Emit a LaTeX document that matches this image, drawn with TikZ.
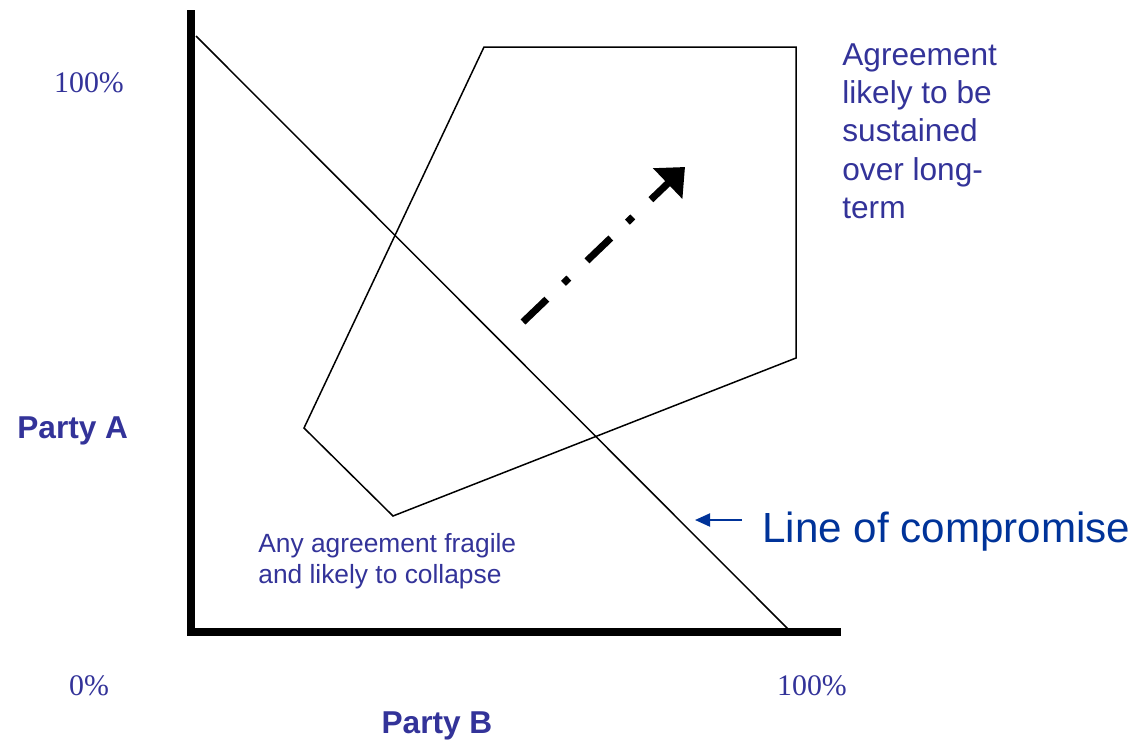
\documentclass[tikz,border=0pt]{standalone}
\usepackage{fontspec}
\setmainfont{Liberation Sans}
\newfontfamily\pctfont{Liberation Serif}
\usetikzlibrary{arrows.meta}
\definecolor{partyblue}{RGB}{51,51,153}
\definecolor{lineblue}{RGB}{0,51,153}

\begin{document}
\begin{tikzpicture}[
    x=0.02cm, y=-0.02cm,
    axis/.style={line width=4.5pt},
    zone/.style={line width=0.85pt},
    compromise/.style={line width=0.85pt},
    trend/.style={line width=4pt, dash pattern=on 0.66cm off 0.46cm on 0.15cm off 0.5cm, -{Triangle[length=0.48cm,width=0.82cm]}},
    ptr/.style={lineblue, line width=1.1pt, -{Triangle[length=0.3cm,width=0.26cm]}},
    lbl/.style={text=partyblue, inner sep=0pt},
    pct/.style={text=partyblue, font=\pctfont\fontsize{17}{20}\selectfont, inner sep=0pt, anchor=base},
    party/.style={text=partyblue, font=\bfseries\fontsize{18}{21}\selectfont, inner sep=0pt, anchor=base}
]
\useasboundingbox (0,0) rectangle (1137,741);

% axes
\coordinate (ytop) at (191,10);
\coordinate (orig) at (191,632);
\coordinate (xend) at (841,632);
\draw[axis] (ytop) -- (orig) -- (xend);

% line of compromise
\coordinate (cmpA) at (196,36);
\coordinate (cmpB) at (791,632);
\draw[compromise] (cmpA) -- (cmpB);

% zone of agreement
\coordinate (z1) at (484,47);
\coordinate (z2) at (796,47);
\coordinate (z3) at (796,358);
\coordinate (z4) at (393,516);
\coordinate (z5) at (304,428);
\draw[zone] (z1) -- (z2) -- (z3) -- (z4) -- (z5) -- cycle;

% trend
\coordinate (trendstart) at (523,322);
\coordinate (trendend) at (685,167);
\draw[trend] (trendstart) -- (trendend);

% labels
\node[party, anchor=base west] (pa) at (17,438) {Party A};
\node[party] (pb) at (437,733) {Party B};
\node[pct] (ptop) at (89,92) {100\%};
\node[pct] (pzero) at (89,695) {0\%};
\node[pct] (pright) at (812,695) {100\%};

\node[lbl, anchor=north west, align=left, font=\fontsize{18}{21.8}\selectfont] (good) at (842,43) {Agreement\\likely to be\\sustained\\over long-\\term};
\node[lbl, anchor=north west, align=left, font=\fontsize{15}{17.9}\selectfont] (fragile) at (258,533) {Any agreement fragile\\and likely to collapse};

\node[inner sep=0pt, anchor=base west, text=lineblue, font=\fontsize{24}{28}\selectfont] (loc) at (762,542) {Line of compromise};
\coordinate (ptrtail) at (742,520);
\coordinate (ptrhead) at (695,520);
\draw[ptr] (ptrtail) -- (ptrhead);
\end{tikzpicture}
\end{document}
